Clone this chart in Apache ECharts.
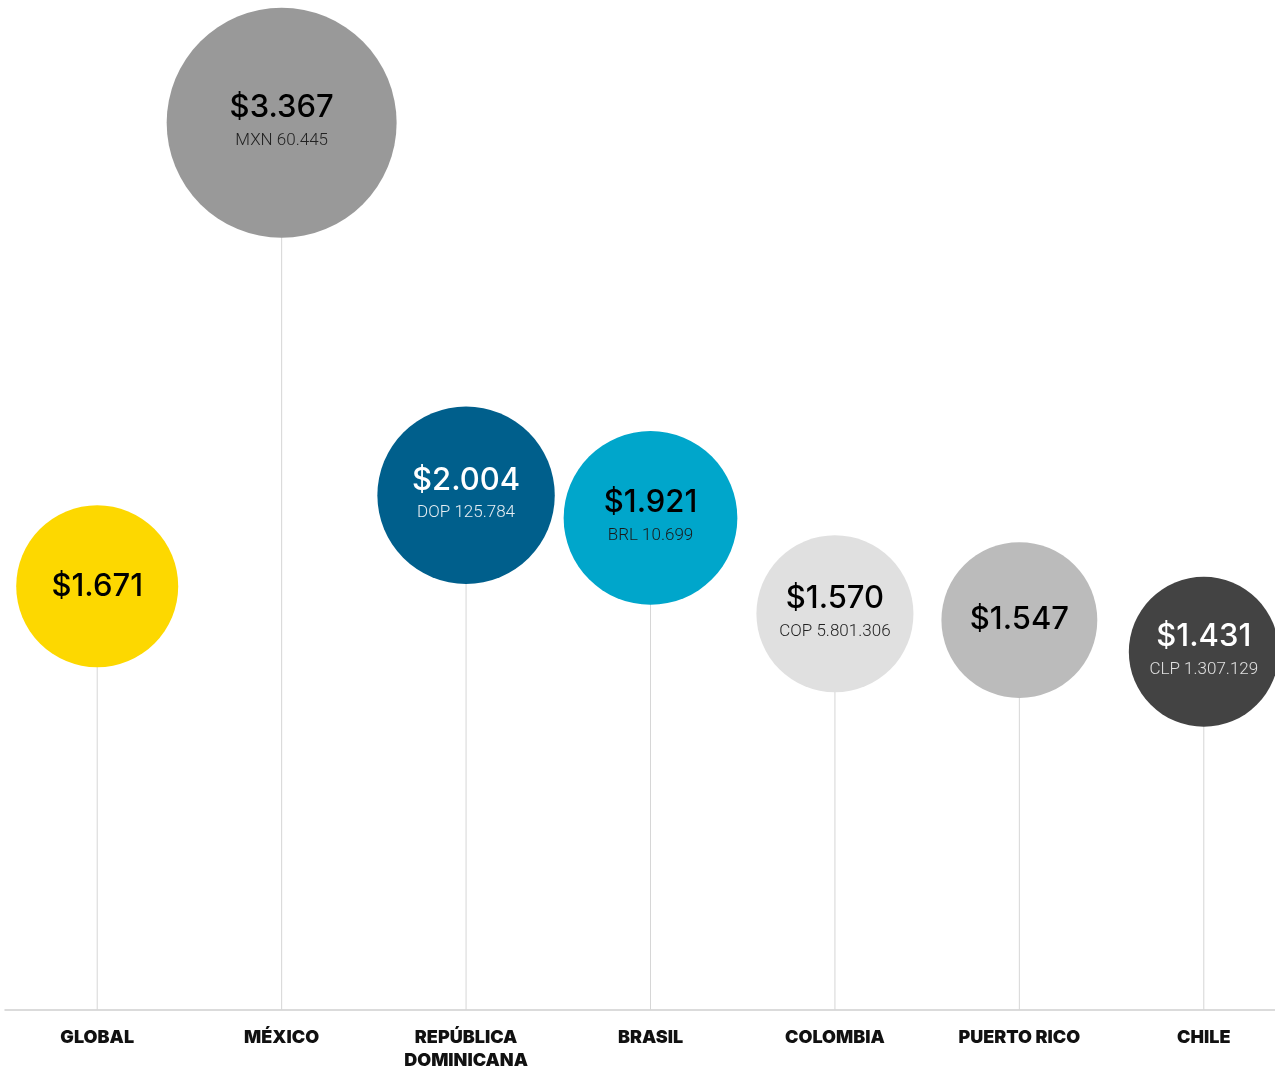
<!DOCTYPE html>
<html>
<head>
<meta charset="utf-8">
<script src="https://cdn.jsdelivr.net/npm/echarts@6/dist/echarts.min.js"></script>
<style>
html,body{margin:0;padding:0;background:#fff;}
#chart{width:1275px;height:1070px;}
</style>
</head>
<body>
<div id="chart"></div>
<script>
// ---- data ----
const categories = ['GLOBAL', 'MÉXICO', 'REPÚBLICA\nDOMINICANA', 'BRASIL', 'COLOMBIA', 'PUERTO RICO', 'CHILE'];
const usdValues = [1671, 3367, 2004, 1921, 1570, 1547, 1431];
const localCodes = ['', 'MXN', 'DOP', 'BRL', 'COP', '', 'CLP'];
const localValues = [null, 60445, 125784, 10699, 5801306, null, 1307129];

// ---- styles ----
const bubbleColors = ['#FDD800', '#999999', '#005F8C', '#00A6CB', '#E0E0E0', '#BBBBBB', '#434343'];
const mainTextColors = ['#000', '#000', '#fff', '#000', '#000', '#000', '#fff'];
const subTextColors = ['#222', '#222', '#e6eef3', '#1a1a1a', '#222', '#222', '#e0e0e0'];

function fmt(n) {
  return String(n).replace(/\B(?=(\d{3})+(?!\d))/g, '.');
}

const chart = echarts.init(document.getElementById('chart'));

const scatterData = usdValues.map((v, i) => {
  const sub = localValues[i] != null ? localCodes[i] + ' ' + fmt(localValues[i]) : null;
  return {
    value: v,
    itemStyle: { color: bubbleColors[i], opacity: 1 },
    label: {
      formatter: sub ? '{m|$' + fmt(v) + '}\n{s|' + sub + '}' : '{m|$' + fmt(v) + '}',
      rich: {
        m: { fontFamily: 'Inter', fontSize: 31, fontWeight: 500, color: mainTextColors[i], lineHeight: 36, letterSpacing: -1.5 },
        s: { fontFamily: 'Roboto', fontSize: 17, fontWeight: 300, color: subTextColors[i], lineHeight: 30 }
      }
    }
  };
});

chart.setOption({
  animation: false,
  backgroundColor: '#fff',
  grid: { left: 5, width: 1291, top: 10, bottom: 60, outerBoundsMode: 'none', containLabel: false },
  xAxis: {
    type: 'category',
    data: categories,
    boundaryGap: true,
    axisLine: { lineStyle: { color: '#cfcfcf', width: 1.5 } },
    axisTick: { show: false },
    axisLabel: {
      interval: 0,
      margin: 16,
      fontFamily: 'Inter',
      fontWeight: 900,
      fontSize: 18,
      letterSpacing: 0.8,
      color: '#111',
      lineHeight: 23,
      verticalAlign: 'top'
    }
  },
  yAxis: {
    type: 'value',
    min: 120,
    max: 3780,
    show: false,
    splitLine: { show: false }
  },
  series: [
    {
      type: 'bar',
      data: usdValues,
      barWidth: 1,
      itemStyle: { color: '#d6d6d6' },
      silent: true,
      z: 1
    },
    {
      type: 'scatter',
      data: scatterData,
      symbol: 'circle',
      symbolSize: function (v) { return 162 * Math.sqrt(v / 1671); },
      label: { show: true, position: 'inside', align: 'center', verticalAlign: 'middle' },
      z: 3
    }
  ]
});
</script>
</body>
</html>
